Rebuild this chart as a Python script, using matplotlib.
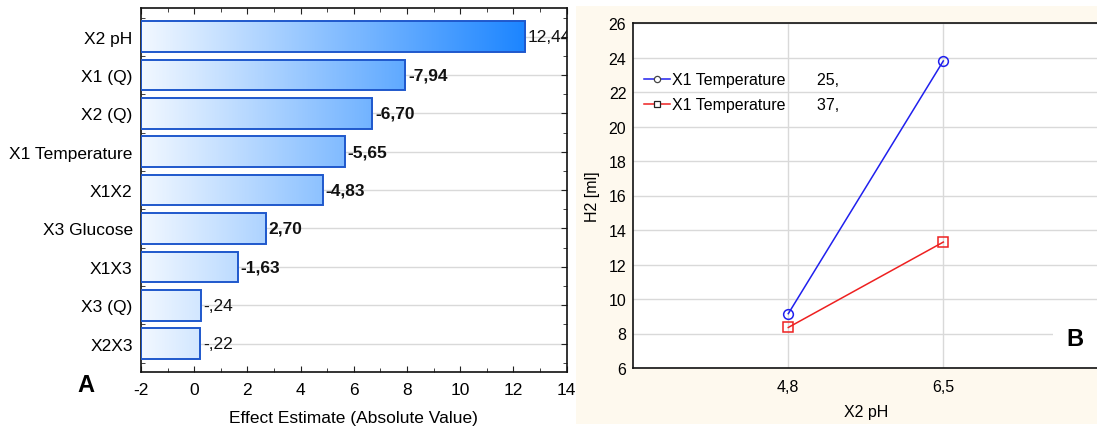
import numpy as np
import matplotlib
matplotlib.use("Agg")
import matplotlib.pyplot as plt
from matplotlib.colors import LinearSegmentedColormap, Normalize
from matplotlib.lines import Line2D
from matplotlib.patches import Rectangle
from matplotlib.ticker import MultipleLocator

plt.rcParams['font.family'] = ['Liberation Sans', 'DejaVu Sans']

# ---- Panel A: standardized effects (Pareto chart) ----
terms = ["X2 pH", "X1 (Q)", "X2 (Q)", "X1 Temperature", "X1X2",
         "X3 Glucose", "X1X3", "X3 (Q)", "X2X3"]
effects = [12.44, -7.94, -6.70, -5.65, -4.83, 2.70, -1.63, -0.24, -0.22]
effect_xticks = [-2, 0, 2, 4, 6, 8, 10, 12, 14]

# ---- Panel B: interaction plot ----
ph_levels = ["4,8", "6,5"]
temperatures = [25, 37]
h2_t25 = [9.15, 23.8]
h2_t37 = [8.35, 13.3]
h2_yticks = [6, 8, 10, 12, 14, 16, 18, 20, 22, 24, 26]


def stat_fmt(v):
    s = f"{v:.2f}".replace(".", ",")
    if s.startswith("0,"):
        s = s[1:]
    elif s.startswith("-0,"):
        s = "-" + s[2:]
    return s


W, H = 1097, 427
fig = plt.figure(figsize=(W / 100, H / 100), dpi=100)
fig.patch.set_facecolor("white")

# cream backdrop behind panel B
fig.patches.append(Rectangle((576 / W, 2 / H), 1 - 576 / W, 1 - 9 / H,
                             transform=fig.transFigure, facecolor="#fef9ee",
                             edgecolor="none", zorder=-1))

# ---------------- Panel A ----------------
axA = fig.add_axes([141 / W, 1 - 373.3 / H, (566.7 - 141) / W, (373.3 - 9) / H])
axA.set_zorder(2)
xmin, xmax = -2, 14
n = len(terms)
ypos = np.arange(n)
bar_h = 0.8
lengths = np.abs(effects)

cmap = LinearSegmentedColormap.from_list("bluegrad", ["#f2f8ff", "#1a84ff"])
norm = Normalize(vmin=-2, vmax=12.6)

for y in ypos:
    axA.axhline(y, color="#d9d9d9", lw=1.0, zorder=0.5)

for y, L in zip(ypos, lengths):
    grad = np.linspace(xmin, L, 256)[None, :]
    axA.imshow(grad, cmap=cmap, norm=norm, aspect="auto",
               extent=[xmin, L, y + bar_h / 2, y - bar_h / 2],
               interpolation="bilinear", zorder=2)

axA.barh(ypos, lengths - xmin, left=xmin, height=bar_h, fill=False,
         edgecolor="#1f58cc", linewidth=1.4, zorder=3)

bold_labels = [False, True, True, True, True, True, True, False, False]
for y, L, e, b in zip(ypos, lengths, effects, bold_labels):
    axA.annotate(stat_fmt(e), xy=(L, y), xytext=(2, 0), textcoords="offset points",
                 va="center", ha="left", fontsize=12.5,
                 fontweight="bold" if b else "normal", color="#111111",
                 clip_on=True, zorder=4)

axA.set_xlim(xmin, xmax)
axA.set_ylim(n - 0.25, -0.75)
axA.set_xticks(effect_xticks)
axA.set_xticklabels([str(t) for t in effect_xticks])
axA.xaxis.set_minor_locator(MultipleLocator(1))
axA.set_yticks(ypos)
axA.set_yticklabels(terms)
axA.set_yticks(np.arange(-0.5, n, 1.0), minor=True)
axA.tick_params(axis="both", which="both", direction="in", top=True, right=True,
                color="#222222")
axA.tick_params(axis="x", which="major", length=4, pad=7, labelsize=12.5)
axA.tick_params(axis="x", which="minor", length=3)
axA.tick_params(axis="y", which="major", length=4, pad=6, labelsize=12.5)
axA.tick_params(axis="y", which="minor", length=3)
axA.set_xlabel("Effect Estimate (Absolute Value)", fontsize=12.5, labelpad=9)
for sp in axA.spines.values():
    sp.set_linewidth(1.2)
    sp.set_color("#111111")

fig.text(86 / W, 1 - 386 / H, "A", fontsize=17, fontweight="bold",
         ha="center", va="center")

# ---------------- Panel B ----------------
axB = fig.add_axes([633.3 / W, 1 - 369 / H, (1098.3 - 633.3) / W, (369 - 24) / H])
axB.set_zorder(2)
axB.set_facecolor("white")
xcat = np.arange(len(ph_levels))
axB.plot(xcat, h2_t25, color="#2020ee", lw=1.1, marker="o", ms=7,
         mfc="none", mec="#2020ee", mew=1.1, zorder=3)
axB.plot(xcat, h2_t37, color="#ee2020", lw=1.1, marker="s", ms=7,
         mfc="none", mec="#ee2020", mew=1.1, zorder=3)

axB.set_xlim(-1, 2)
axB.set_ylim(6, 26)
axB.set_xticks(xcat)
axB.set_xticklabels(ph_levels)
axB.set_yticks(h2_yticks)
axB.grid(True, color="#d9d9d9", lw=1.0, zorder=0)
axB.set_axisbelow(True)
axB.tick_params(axis="both", length=0, labelsize=11.5)
axB.tick_params(axis="x", pad=8)
axB.tick_params(axis="y", pad=5)
axB.set_xlabel("X2 pH", fontsize=11.5, labelpad=7)
axB.set_ylabel("H2 [ml]", fontsize=11.5, labelpad=6)
axB.spines["right"].set_visible(False)
for k in ("left", "top", "bottom"):
    axB.spines[k].set_linewidth(1.2)
    axB.spines[k].set_color("#111111")

handles = [
    Line2D([], [], color="#2020ee", lw=1.1, marker="o", ms=4.5, mfc="white",
           mec="#444444", mew=0.9),
    Line2D([], [], color="#ee2020", lw=1.1, marker="s", ms=4.5, mfc="white",
           mec="#222222", mew=0.9),
]
labels = [f"X1 Temperature       {t}," for t in temperatures]
axB.legend(handles, labels, loc="upper left", bbox_to_anchor=(-0.004, 0.894),
           frameon=False, fontsize=11.5, handlelength=1.6, handletextpad=0.15,
           labelspacing=0.62, borderaxespad=0.4)

fig.text(1075 / W, 1 - 340 / H, "B", fontsize=17, fontweight="bold",
         ha="center", va="center", zorder=5,
         bbox=dict(facecolor="white", edgecolor="none", boxstyle="square,pad=0.55"))

fig.savefig("out.png", dpi=100)
